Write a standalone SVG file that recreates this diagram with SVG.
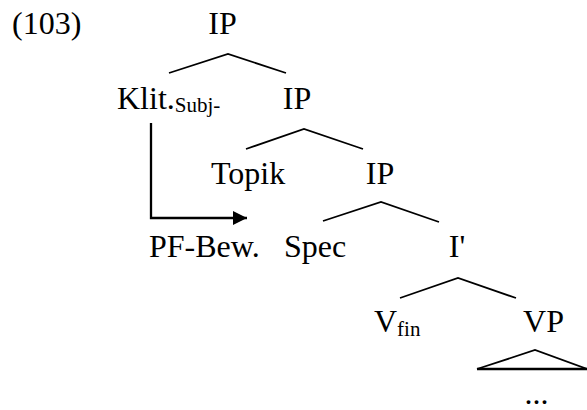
<svg xmlns="http://www.w3.org/2000/svg" width="587" height="410" viewBox="0 0 587 410">
  <style>
    text { font-family: "Liberation Serif", "Times New Roman", serif; font-size: 32px; fill: #000; }
    .sub { font-size: 21px; }
    .edge { stroke: #000; stroke-width: 1.8; fill: none; }
    .move { stroke: #000; stroke-width: 2.3; fill: none; }
  </style>
  <defs>
    <!-- filled arrowhead for the movement path -->
    <marker id="head" viewBox="0 0 14 14" refX="14" refY="7" markerWidth="14" markerHeight="14" markerUnits="userSpaceOnUse" orient="auto">
      <path d="M0,0 L14,7 L0,14 Z" fill="#000"/>
    </marker>
  </defs>

  <text id="example-number" x="12" y="34">(103)</text>

  <g id="connectors">
    <path class="edge" d="M169,73 L228,54 L286,73"/>
    <path class="edge" d="M246,149 L304,129 L363,149"/>
    <path class="edge" d="M323,221 L381,202 L439,222"/>
    <path class="edge" d="M400,298 L458,278 L516,298"/>
    <!-- collapsed VP triangle -->
    <path class="edge" d="M477,369 L535,350 L587,369"/>
    <path d="M477,369 L587,369" stroke="#000" stroke-width="2.6"/>
    <!-- clitic movement -->
    <path class="move" d="M151,123 L151,218 L247,218" marker-end="url(#head)"/>
  </g>

  <g id="ip-1"><text x="222.5" y="34" text-anchor="middle">IP</text></g>
  <g id="klit"><text x="117" y="109">Klit.<tspan class="sub" dy="3">Subj-</tspan></text></g>
  <g id="ip-2"><text x="297" y="109" text-anchor="middle">IP</text></g>
  <g id="topik"><text x="211" y="184">Topik</text></g>
  <g id="ip-3"><text x="380" y="184" text-anchor="middle">IP</text></g>
  <g id="pf-bew"><text x="149" y="257">PF-Bew.</text></g>
  <g id="spec"><text x="284" y="257">Spec</text></g>
  <g id="i-bar"><text x="457" y="257" text-anchor="middle">I'</text></g>
  <g id="v-fin"><text x="374" y="332">V<tspan class="sub" dy="4">fin</tspan></text></g>
  <g id="vp"><text x="543.5" y="332" text-anchor="middle">VP</text></g>
  <g id="dots"><text x="536.5" y="404" text-anchor="middle">...</text></g>
</svg>
